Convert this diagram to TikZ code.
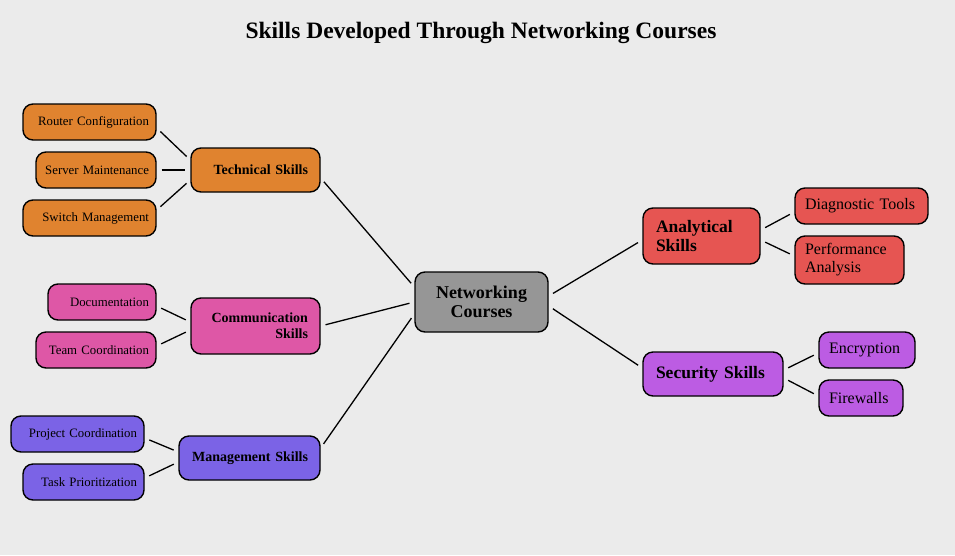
\documentclass[tikz,border=0pt]{standalone}
\usepackage{fontspec}
\setmainfont{Liberation Serif}
\definecolor{bgcol}{HTML}{EBEBEB}
\definecolor{techcol}{HTML}{E0832F}
\definecolor{commcol}{HTML}{DE57A6}
\definecolor{mgmtcol}{HTML}{7B63E6}
\definecolor{netcol}{HTML}{969696}
\definecolor{analcol}{HTML}{E65552}
\definecolor{seccol}{HTML}{BC5CE3}
\begin{document}
\begin{tikzpicture}[x=1pt,y=-1pt,
    box/.style={draw=black,line width=1.4pt,rounded corners=10pt,inner ysep=0pt},
    leaf/.style={box,inner xsep=7pt,minimum height=36pt,font=\fontsize{12.8}{15}\selectfont,align=right},
    rleaf/.style={box,inner xsep=10pt,minimum height=36pt,font=\fontsize{16}{18}\selectfont,align=left},
    branch/.style={box,inner xsep=12pt,font=\bfseries\fontsize{14}{16}\selectfont,align=right},
    rbranch/.style={box,inner xsep=13pt,font=\bfseries\fontsize{17.5}{19}\selectfont,align=left},
    link/.style={line width=1.3pt,shorten <=5pt,shorten >=5pt}]
  \useasboundingbox[fill=bgcol] (0,0) rectangle (955,555);
  \node[font=\bfseries\fontsize{23.5}{28}\selectfont] (title) at (481,33) {Skills Developed Through Networking Courses};
  % center
  \node[box,inner xsep=8pt,fill=netcol,minimum height=60pt,text width=117pt,align=center,font=\bfseries\fontsize{18}{19}\selectfont] (net) at (481.5,302) {Networking\\Courses};
  % left branches
  \node[branch,fill=techcol,minimum height=44pt,text width=105pt] (tech) at (255.5,170) {Technical Skills};
  \node[branch,fill=commcol,minimum height=56pt,text width=105pt] (comm) at (255.5,326) {Communication\\Skills};
  \node[branch,fill=mgmtcol,minimum height=44pt,text width=117pt] (mgmt) at (249.5,458) {Management Skills};
  \node[leaf,fill=techcol,text width=119pt] (router) at (89.5,122) {Router Configuration};
  \node[leaf,fill=techcol,text width=106pt] (server) at (96,170) {Server Maintenance};
  \node[leaf,fill=techcol,text width=119pt] (switch) at (89.5,218) {Switch Management};
  \node[leaf,fill=commcol,text width=94pt] (doc) at (102,302) {Documentation};
  \node[leaf,fill=commcol,text width=106pt] (team) at (96,350) {Team Coordination};
  \node[leaf,fill=mgmtcol,text width=119pt] (proj) at (77.5,434) {Project Coordination};
  \node[leaf,fill=mgmtcol,text width=107pt] (task) at (83.5,482) {Task Prioritization};
  % right branches
  \node[rbranch,fill=analcol,minimum height=56pt,text width=91pt] (anal) at (701.5,236) {Analytical\\Skills};
  \node[rbranch,fill=seccol,minimum height=44pt,text width=114pt] (sec) at (713,374) {Security Skills};
  \node[rleaf,fill=analcol,text width=113pt] (diag) at (861.5,206) {Diagnostic Tools};
  \node[rleaf,fill=analcol,minimum height=48pt,text width=89pt,font=\fontsize{16}{18}\selectfont] (perf) at (849.5,260) {Performance\\Analysis};
  \node[rleaf,fill=seccol,text width=76pt] (enc) at (867,350) {Encryption};
  \node[rleaf,fill=seccol,text width=64pt] (fw) at (861,398) {Firewalls};
  % connectors
  \draw[link] ([yshift=-8pt]tech.east) -- ([yshift=15pt]net.west);
  \draw[link] (comm.east) -- (net.west);
  \draw[link] ([yshift=10pt]mgmt.east) -- ([yshift=-12pt]net.west);
  \draw[link] ([yshift=6pt]net.east) -- ([yshift=-4pt]anal.west);
  \draw[link] ([yshift=-4pt]net.east) -- ([yshift=6pt]sec.west);
  \draw[link] ([yshift=-6pt]router.east) -- ([yshift=10pt]tech.west);
  \draw[link] (server.east) -- (tech.west);
  \draw[link] ([yshift=8pt]switch.east) -- ([yshift=-10pt]tech.west);
  \draw[link] ([yshift=-4pt]doc.east) -- ([yshift=4pt]comm.west);
  \draw[link] ([yshift=4pt]team.east) -- ([yshift=-4pt]comm.west);
  \draw[link] ([yshift=-4pt]proj.east) -- ([yshift=6pt]mgmt.west);
  \draw[link] ([yshift=4pt]task.east) -- ([yshift=-4pt]mgmt.west);
  \draw[link] ([yshift=6pt]anal.east) -- ([yshift=-6pt]diag.west);
  \draw[link] ([yshift=-4pt]anal.east) -- ([yshift=4pt]perf.west);
  \draw[link] ([yshift=4pt]sec.east) -- ([yshift=-3pt]enc.west);
  \draw[link] ([yshift=-4pt]sec.east) -- ([yshift=2pt]fw.west);
\end{tikzpicture}
\end{document}
